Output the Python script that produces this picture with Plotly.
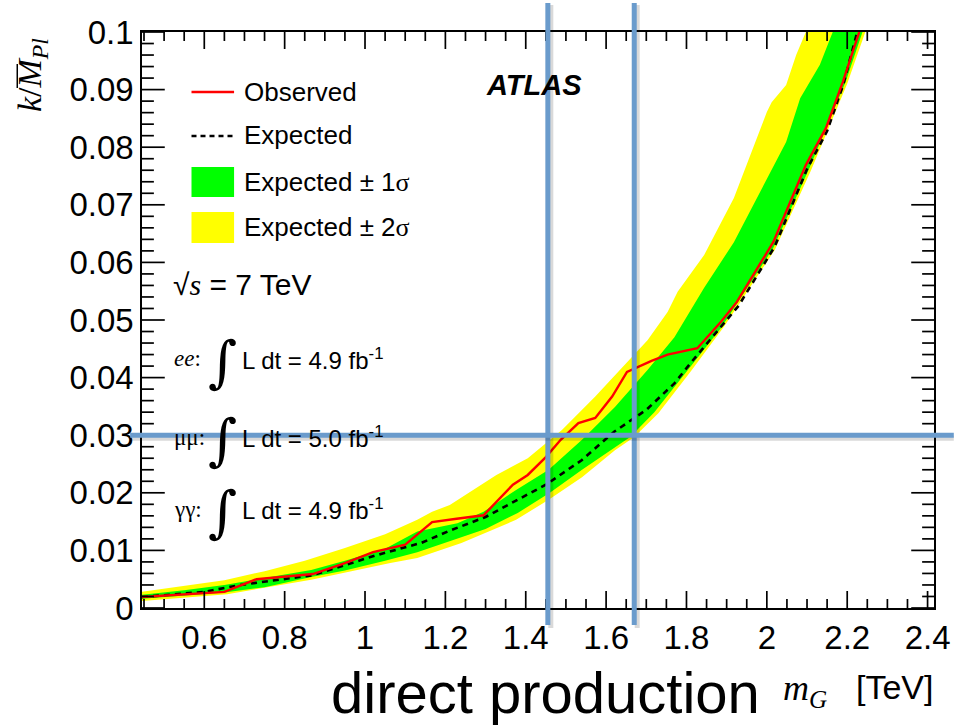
import plotly.graph_objects as go

# ---- data: 95% CL upper limits on k/M_Pl versus graviton mass m_G [TeV] ----
obs_mass = [0.445, 0.60, 0.65, 0.73, 0.87, 0.95, 1.02, 1.10, 1.13, 1.167, 1.228, 1.295,
            1.368, 1.405, 1.45, 1.487, 1.531, 1.573, 1.615, 1.652, 1.713, 1.753, 1.827,
            1.886, 1.925, 2.016, 2.097, 2.147, 2.189, 2.23]
obs_limit = [0.0019, 0.0026, 0.0028, 0.0050, 0.0059, 0.0078, 0.0097, 0.0110, 0.0127, 0.0149,
             0.0155, 0.0161, 0.0214, 0.0231, 0.0262, 0.0292, 0.0321, 0.0330, 0.0367, 0.0410,
             0.0429, 0.0440, 0.0451, 0.0497, 0.0531, 0.0635, 0.0769, 0.0833, 0.0913, 0.1000]

exp_mass = [0.445, 0.60, 0.69, 0.87, 1.03, 1.14, 1.21, 1.30, 1.38, 1.45, 1.54, 1.62, 1.70,
            1.77, 1.81, 1.88, 1.93, 2.02, 2.10, 2.15, 2.19, 2.225]
exp_limit = [0.0019, 0.0028, 0.0040, 0.0057, 0.0092, 0.0113, 0.0134, 0.0158, 0.0188, 0.0214,
             0.0257, 0.0306, 0.0344, 0.0390, 0.0425, 0.0483, 0.0525, 0.0628, 0.0762, 0.0828,
             0.0908, 0.1000]

# +2 sigma / -2 sigma edges
up2_mass = [0.445, 0.55, 0.65, 0.75, 0.85, 0.95, 1.05, 1.13, 1.167, 1.211, 1.25, 1.327, 1.405,
            1.49, 1.573, 1.64, 1.703, 1.753, 1.778, 1.844, 1.918, 2.0, 2.012, 2.048, 2.073, 2.097]
up2_limit = [0.0028, 0.0038, 0.0048, 0.0064, 0.0082, 0.0104, 0.0128, 0.0153, 0.0167, 0.0179,
             0.0196, 0.0231, 0.0260, 0.0309, 0.0367, 0.0418, 0.0465, 0.0514, 0.0549, 0.0613,
             0.0712, 0.0861, 0.0878, 0.0908, 0.0960, 0.1000]
dn2_mass = [0.445, 0.657, 0.866, 1.063, 1.13, 1.24, 1.376, 1.457, 1.54, 1.622, 1.67, 1.73,
            1.81, 1.895, 2.02, 2.11, 2.20, 2.245]
dn2_limit = [0.0012, 0.0024, 0.0049, 0.0078, 0.0087, 0.0113, 0.0153, 0.0188, 0.0227, 0.0274,
             0.0297, 0.0338, 0.0410, 0.0490, 0.0622, 0.0760, 0.0910, 0.1000]

# +1 sigma / -1 sigma edges
up1_mass = [0.445, 0.55, 0.65, 0.75, 0.866, 0.95, 1.05, 1.13, 1.23, 1.295, 1.376, 1.457, 1.54,
            1.622, 1.703, 1.77, 1.844, 1.918, 1.984, 2.048, 2.083, 2.132, 2.164]
up1_limit = [0.0023, 0.0031, 0.0040, 0.0052, 0.0066, 0.0082, 0.0103, 0.0133, 0.0147, 0.0167,
             0.0205, 0.0240, 0.0292, 0.0349, 0.0413, 0.0470, 0.0556, 0.0635, 0.0722, 0.0809,
             0.0885, 0.0943, 0.1000]
dn1_mass = [0.445, 0.55, 0.65, 0.75, 0.866, 0.95, 1.05, 1.13, 1.23, 1.30, 1.38, 1.46, 1.54,
            1.66, 1.72, 1.80, 1.886, 2.016, 2.106, 2.196, 2.238]
dn1_limit = [0.0016, 0.0021, 0.0027, 0.0036, 0.0054, 0.0065, 0.0082, 0.0097, 0.0120, 0.0137,
             0.0165, 0.0200, 0.0240, 0.0297, 0.0340, 0.0410, 0.0486, 0.0625, 0.0764, 0.0913,
             0.1000]

# guide lines drawn over the plot
guide_mass = [1.455, 1.67]
guide_limit = [0.03]

x_ticks = [0.6, 0.8, 1.0, 1.2, 1.4, 1.6, 1.8, 2.0, 2.2, 2.4]
x_labels = ["0.6", "0.8", "1", "1.2", "1.4", "1.6", "1.8", "2", "2.2", "2.4"]
y_ticks = [0, 0.01, 0.02, 0.03, 0.04, 0.05, 0.06, 0.07, 0.08, 0.09, 0.1]
y_labels = ["0", "0.01", "0.02", "0.03", "0.04", "0.05", "0.06", "0.07", "0.08", "0.09", "0.1"]
x_minor_step = 0.05
y_minor_step = 0.002

X_RANGE = [0.445, 2.416]
Y_RANGE = [0.0, 0.1]

# ---- page geometry (pixels) ----
W, H = 962, 728
ML, MR, MT, MB = 142, 20, 32, 120
PW, PH = W - ML - MR, H - MT - MB

def fx(px):
    return (px - ML) / PW

def fy(py):
    return (H - MB - py) / PH

def data_fx(x):
    return (x - X_RANGE[0]) / (X_RANGE[1] - X_RANGE[0])

def data_fy(y):
    return (y - Y_RANGE[0]) / (Y_RANGE[1] - Y_RANGE[0])

SANS = "Liberation Sans, Arial, Helvetica, sans-serif"
SERIF = "Liberation Serif, Times New Roman, serif"
RED = "#ff0000"
GREEN = "#00ff00"
YELLOW = "#ffff00"
BLUE = "#6a9bcc"

fig = go.Figure()

fig.add_trace(go.Scatter(
    x=up2_mass + dn2_mass[::-1], y=up2_limit + dn2_limit[::-1],
    fill="toself", fillcolor=YELLOW, line=dict(width=0), mode="lines",
    hoverinfo="skip", name="Expected ± 2σ"))
fig.add_trace(go.Scatter(
    x=up1_mass + dn1_mass[::-1], y=up1_limit + dn1_limit[::-1],
    fill="toself", fillcolor=GREEN, line=dict(width=0), mode="lines",
    hoverinfo="skip", name="Expected ± 1σ"))
fig.add_trace(go.Scatter(
    x=exp_mass, y=exp_limit, mode="lines",
    line=dict(color="black", width=2.6, dash="6px,5px"), name="Expected"))
fig.add_trace(go.Scatter(
    x=obs_mass, y=obs_limit, mode="lines",
    line=dict(color=RED, width=2.4), name="Observed"))

tick_font = dict(family=SANS, size=33, color="black")

fig.update_layout(
    xaxis=dict(range=X_RANGE, tickmode="array", tickvals=x_ticks, ticktext=x_labels,
               ticks="", tickfont=tick_font,
               showline=True, linecolor="black", linewidth=1.5, mirror=True,
               showgrid=False, zeroline=False),
    yaxis=dict(range=Y_RANGE, tickmode="array", tickvals=y_ticks, ticktext=y_labels,
               ticks="", tickfont=tick_font,
               showline=True, linecolor="black", linewidth=1.5, mirror=True,
               showgrid=False, zeroline=False),
)

shapes = []

# ---- inward tick marks on all four sides of the frame ----
TICK = dict(color="black", width=1.7)

def x_tick(v, length):
    xp = data_fx(v)
    for base, sign in ((0.0, 1), (1.0, -1)):
        shapes.append(dict(type="line", xref="paper", yref="paper", layer="above",
                           x0=xp, x1=xp, y0=base, y1=base + sign * length / PH, line=TICK))

def y_tick(v, length):
    yp = data_fy(v)
    for base, sign in ((0.0, 1), (1.0, -1)):
        shapes.append(dict(type="line", xref="paper", yref="paper", layer="above",
                           x0=base, x1=base + sign * length / PW, y0=yp, y1=yp, line=TICK))

n_x = int(round(X_RANGE[1] / x_minor_step))
x_minor = [round(i * x_minor_step, 4) for i in range(n_x + 1)
           if X_RANGE[0] < i * x_minor_step < X_RANGE[1]]
n_y = int(round((Y_RANGE[1] - Y_RANGE[0]) / y_minor_step))
y_minor = [round(Y_RANGE[0] + i * y_minor_step, 5) for i in range(1, n_y)]

for v in x_minor:
    if not any(abs(v - t) < 1e-6 for t in x_ticks):
        x_tick(v, 9)
for v in x_ticks:
    x_tick(v, 17)
for v in y_minor:
    if not any(abs(v - t) < 1e-7 for t in y_ticks):
        y_tick(v, 12)
for v in y_ticks:
    y_tick(v, 23)

# legend keys
shapes.append(dict(type="line", xref="paper", yref="paper",
                   x0=fx(192), x1=fx(235), y0=fy(92), y1=fy(92),
                   line=dict(color=RED, width=2.4)))
shapes.append(dict(type="line", xref="paper", yref="paper",
                   x0=fx(192), x1=fx(235), y0=fy(136), y1=fy(136),
                   line=dict(color="black", width=2.4, dash="5px,4px")))
shapes.append(dict(type="rect", xref="paper", yref="paper",
                   x0=fx(192), x1=fx(235), y0=fy(197), y1=fy(167),
                   fillcolor=GREEN, line=dict(width=0)))
shapes.append(dict(type="rect", xref="paper", yref="paper",
                   x0=fx(192), x1=fx(235), y0=fy(243), y1=fy(212),
                   fillcolor=YELLOW, line=dict(width=0)))

# guide lines with a soft drop shadow
for gx in guide_mass:
    xp = data_fx(gx)
    shapes.append(dict(type="line", xref="paper", yref="paper", layer="above",
                       x0=xp + 3 / PW, x1=xp + 3 / PW, y0=fy(5), y1=fy(628),
                       line=dict(color="rgba(0,0,0,0.15)", width=5)))
    shapes.append(dict(type="line", xref="paper", yref="paper", layer="above",
                       x0=xp, x1=xp, y0=fy(3), y1=fy(625),
                       line=dict(color=BLUE, width=5)))
for gy in guide_limit:
    yp = data_fy(gy)
    shapes.append(dict(type="line", xref="paper", yref="paper", layer="above",
                       x0=fx(132), x1=fx(962), y0=yp - 3 / PH, y1=yp - 3 / PH,
                       line=dict(color="rgba(0,0,0,0.15)", width=5)))
    shapes.append(dict(type="line", xref="paper", yref="paper", layer="above",
                       x0=fx(130), x1=fx(962), y0=yp, y1=yp,
                       line=dict(color=BLUE, width=5)))

# overline on the M of the y-axis title (text is rotated)
shapes.append(dict(type="line", xref="paper", yref="paper",
                   x0=fx(16), x1=fx(16), y0=fy(88), y1=fy(64),
                   line=dict(color="black", width=1.5)))

fig.update_layout(shapes=shapes)

annotations = []

def text(px, py, s, size, family=SANS, xanchor="left", **kw):
    annotations.append(dict(
        xref="paper", yref="paper", x=fx(px), y=fy(py), text=s,
        showarrow=False, xanchor=xanchor, yanchor="middle",
        font=dict(family=family, size=size, color="black"), **kw))

# legend labels
sig = "<span style='font-family:Liberation Serif'>σ</span>"
text(243, 92, "Observed", 26)
text(243, 135, "Expected", 26)
text(243, 182, "Expected ± 1" + sig, 26)
text(243, 227, "Expected ± 2" + sig, 26)

text(538, 85, "<b><i>ATLAS</i></b>", 29, xanchor="center")

text(171, 284, "√<span style='font-family:Liberation Serif'><i>s</i></span> = 7 TeV", 30)

# integrated luminosities per channel
lumi_rows = [
    (359, "<i>ee</i>:", "L dt = 4.9 fb<sup>-1</sup>"),
    (437, "μμ:", "L dt = 5.0 fb<sup>-1</sup>"),
    (509, "γγ:", "L dt = 4.9 fb<sup>-1</sup>"),
]
for ry, prefix, body in lumi_rows:
    text(172, ry, prefix, 23, family=SERIF)
    text(207, ry + 2, "∫", 56, family="DejaVu Serif")
    text(241, ry, body, 24)

# y-axis title
annotations.append(dict(
    xref="paper", yref="paper", x=fx(31), y=fy(75), textangle=-90,
    text="<i>k</i>/<i>M</i><sub><i>Pl</i></sub>", showarrow=False,
    xanchor="center", yanchor="middle",
    font=dict(family=SERIF, size=34, color="black")))

# x-axis title
text(550, 692, "direct production", 58, xanchor="center")
text(787, 690, "<i>m</i><sub><i>G</i></sub>", 36, family=SERIF)
text(861, 687, "[TeV]", 34)

fig.update_layout(
    annotations=annotations,
    width=W, height=H,
    margin=dict(l=ML, r=MR, t=MT, b=MB),
    paper_bgcolor="white", plot_bgcolor="white",
    showlegend=False,
)

fig.write_html("out.html")
